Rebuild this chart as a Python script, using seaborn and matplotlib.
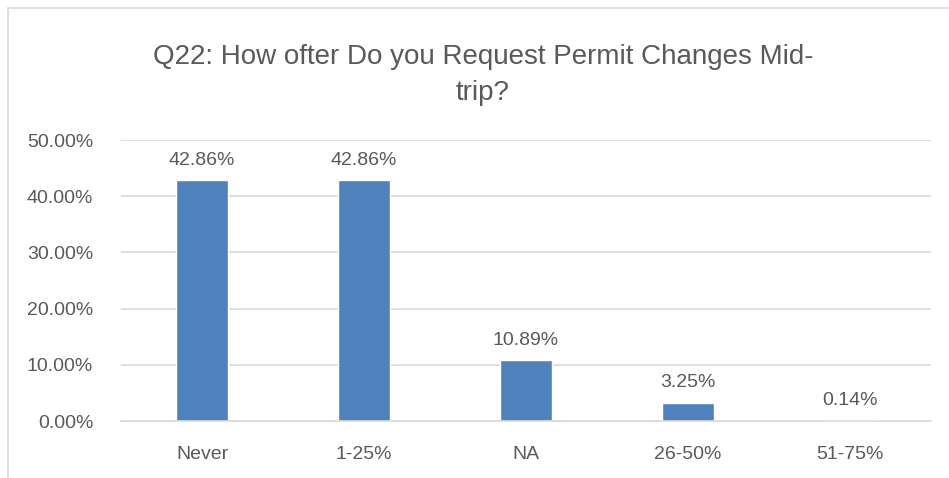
import matplotlib
matplotlib.use("Agg")
import matplotlib.pyplot as plt
import matplotlib.patches as mpatches
import seaborn as sns
import pandas as pd

# Data
categories = ["Never", "1-25%", "NA", "26-50%", "51-75%"]
shares = [42.86, 42.86, 10.89, 3.25, 0.14]
y_ticks = [0, 10, 20, 30, 40, 50]

df = pd.DataFrame({"category": categories, "share": shares})

sns.set_style("white")
plt.rcParams["font.family"] = ["Liberation Sans", "DejaVu Sans"]
text_color = "#595959"

fig = plt.figure(figsize=(9.49, 4.78), dpi=100)
ax = fig.add_axes([121 / 949, 1 - 421 / 478, 810 / 949, (421 - 140) / 478])

sns.barplot(data=df, x="category", y="share", color="#4F81BD",
            width=0.32, saturation=1, ax=ax)

# value labels
for i, v in enumerate(shares):
    ax.text(i, v + 2.0, f"{v:.2f}%", ha="center", va="bottom",
            fontsize=14, color=text_color)

ax.set_ylim(0, 50)
ax.set_yticks(y_ticks)
ax.set_yticklabels([f"{t:.2f}%" for t in y_ticks], fontsize=14, color=text_color)
ax.tick_params(axis="x", labelsize=14, colors=text_color, length=0, pad=18)
ax.tick_params(axis="y", length=0, pad=20)
ax.set_xlabel("")
ax.set_ylabel("")
ax.yaxis.grid(True, color="#d9d9d9", linewidth=1.2)
ax.set_axisbelow(True)
for s in ["top", "right", "left"]:
    ax.spines[s].set_visible(False)
ax.spines["bottom"].set_color("#d9d9d9")
ax.spines["bottom"].set_linewidth(1.2)

fig.text(483 / 949, 1 - 75 / 478, "Q22: How ofter Do you Request Permit Changes Mid-\ntrip?",
         ha="center", va="center", fontsize=20, color=text_color, linespacing=1.45)

# chart frame
fig.patches.append(mpatches.Rectangle((8 / 949, -0.1), 1.1, 1 - 8 / 478 + 0.1,
                                      transform=fig.transFigure, fill=False,
                                      edgecolor="#d9d9d9", linewidth=1.2))

fig.savefig("out.png", dpi=100)
